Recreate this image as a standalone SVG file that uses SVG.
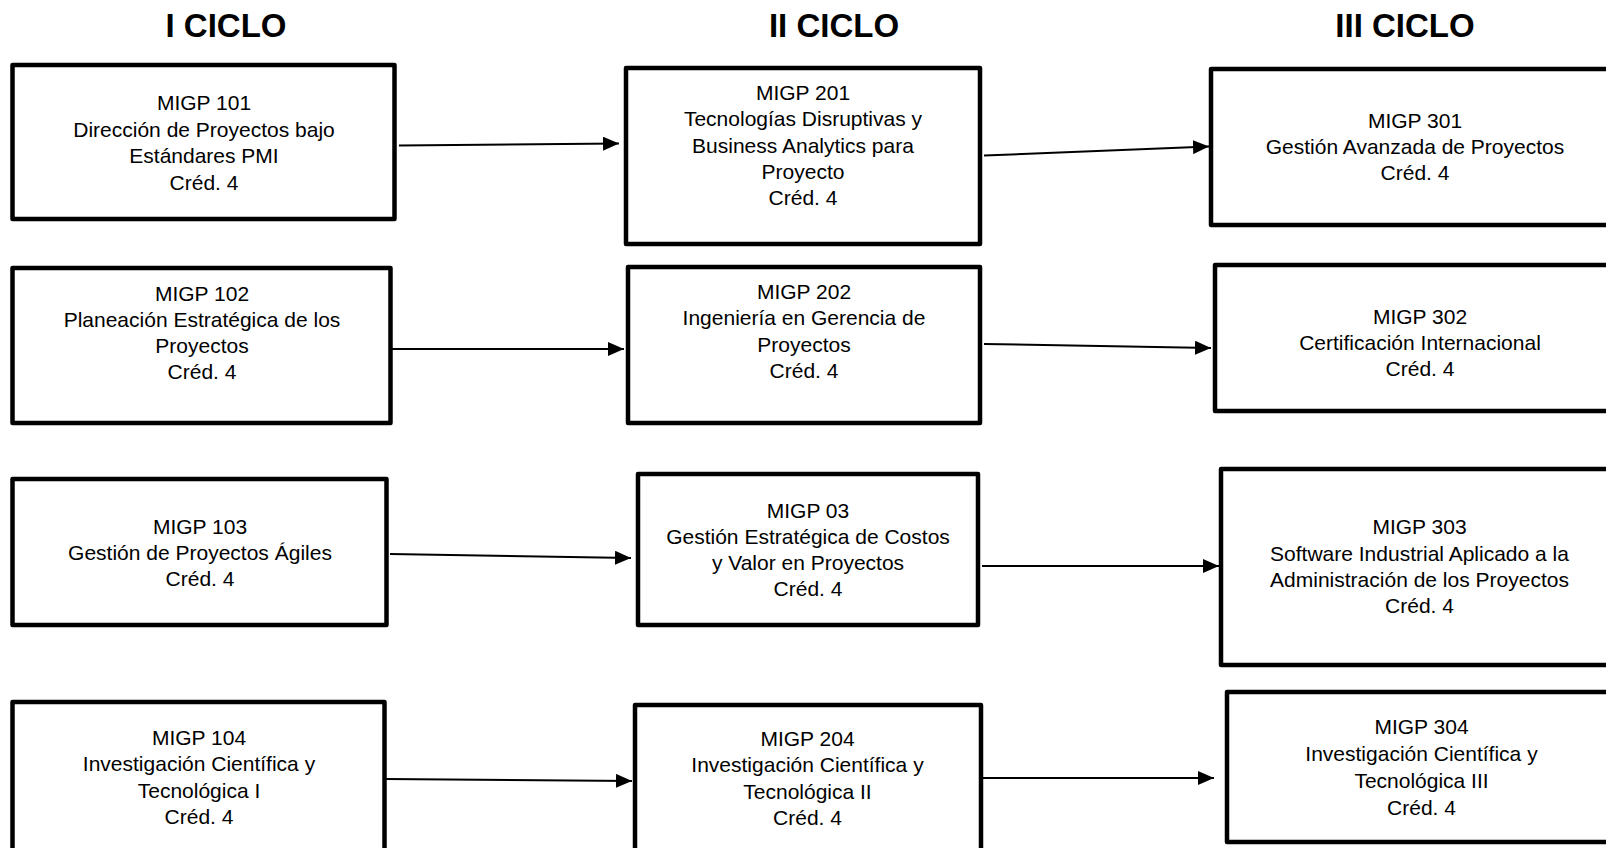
<svg xmlns="http://www.w3.org/2000/svg" width="1606" height="848" viewBox="0 0 1606 848">
<style>
.title{font-family:"Liberation Sans",Arial,sans-serif;font-weight:bold;font-size:33px;fill:#000;text-anchor:middle}
.box{fill:#fff;stroke:#000;stroke-width:4.5;stroke-linejoin:round}
.lbl{font-family:"Liberation Sans",Arial,sans-serif;font-size:21px;fill:#000;text-anchor:middle}
.conn{stroke:#000;stroke-width:2;fill:none;marker-end:url(#ah)}
</style>
<defs>
<marker id="ah" markerUnits="userSpaceOnUse" markerWidth="16" markerHeight="14" refX="16" refY="7" orient="auto">
<path d="M0,0 L16,7 L0,14 Z" fill="#000"/>
</marker>
</defs>
<rect width="1606" height="848" fill="#fff"/>
<g id="titles">
<text class="title" x="226" y="37">I CICLO</text>
<text class="title" x="834" y="37">II CICLO</text>
<text class="title" x="1405" y="37">III CICLO</text>
</g>
<g id="connectors">
<line class="conn" x1="399" y1="145.5" x2="619" y2="143.5"/>
<line class="conn" x1="392" y1="349" x2="624" y2="349"/>
<line class="conn" x1="390" y1="554" x2="631" y2="558"/>
<line class="conn" x1="386" y1="779" x2="632" y2="781"/>
<line class="conn" x1="984" y1="155.5" x2="1209" y2="146.5"/>
<line class="conn" x1="984" y1="344" x2="1211" y2="348"/>
<line class="conn" x1="982" y1="566" x2="1219" y2="566"/>
<line class="conn" x1="983" y1="778" x2="1214" y2="778"/>
</g>
<g id="migp101">
<rect class="box" x="12.5" y="65" width="382" height="154"/>
<text class="lbl" x="204" y="110">MIGP 101</text>
<text class="lbl" x="204" y="136.5">Dirección de Proyectos bajo</text>
<text class="lbl" x="204" y="163">Estándares PMI</text>
<text class="lbl" x="204" y="189.5">Créd. 4</text>
</g>
<g id="migp102">
<rect class="box" x="12.5" y="268" width="378" height="155"/>
<text class="lbl" x="202" y="300.5">MIGP 102</text>
<text class="lbl" x="202" y="326.8">Planeación Estratégica de los</text>
<text class="lbl" x="202" y="353">Proyectos</text>
<text class="lbl" x="202" y="379.3">Créd. 4</text>
</g>
<g id="migp103">
<rect class="box" x="12.5" y="479" width="374" height="146"/>
<text class="lbl" x="200" y="533.5">MIGP 103</text>
<text class="lbl" x="200" y="560">Gestión de Proyectos Ágiles</text>
<text class="lbl" x="200" y="586">Créd. 4</text>
</g>
<g id="migp104">
<rect class="box" x="12.5" y="702" width="372" height="170"/>
<text class="lbl" x="199" y="745">MIGP 104</text>
<text class="lbl" x="199" y="771.3">Investigación Científica y</text>
<text class="lbl" x="199" y="797.7">Tecnológica I</text>
<text class="lbl" x="199" y="824">Créd. 4</text>
</g>
<g id="migp201">
<rect class="box" x="626" y="68" width="354" height="176"/>
<text class="lbl" x="803" y="100">MIGP 201</text>
<text class="lbl" x="803" y="126.3">Tecnologías Disruptivas y</text>
<text class="lbl" x="803" y="152.5">Business Analytics para</text>
<text class="lbl" x="803" y="178.8">Proyecto</text>
<text class="lbl" x="803" y="205">Créd. 4</text>
</g>
<g id="migp202">
<rect class="box" x="628" y="267" width="352" height="156"/>
<text class="lbl" x="804" y="298.5">MIGP 202</text>
<text class="lbl" x="804" y="325">Ingeniería en Gerencia de</text>
<text class="lbl" x="804" y="351.5">Proyectos</text>
<text class="lbl" x="804" y="378">Créd. 4</text>
</g>
<g id="migp203">
<rect class="box" x="638" y="474" width="340" height="151"/>
<text class="lbl" x="808" y="517.5">MIGP 03</text>
<text class="lbl" x="808" y="543.5">Gestión Estratégica de Costos</text>
<text class="lbl" x="808" y="569.5">y Valor en Proyectos</text>
<text class="lbl" x="808" y="595.5">Créd. 4</text>
</g>
<g id="migp204">
<rect class="box" x="635" y="705" width="346" height="170"/>
<text class="lbl" x="807.5" y="746">MIGP 204</text>
<text class="lbl" x="807.5" y="772.3">Investigación Científica y</text>
<text class="lbl" x="807.5" y="798.7">Tecnológica II</text>
<text class="lbl" x="807.5" y="825">Créd. 4</text>
</g>
<g id="migp301">
<rect class="box" x="1211" y="69" width="420" height="156"/>
<text class="lbl" x="1415" y="127.5">MIGP 301</text>
<text class="lbl" x="1415" y="154">Gestión Avanzada de Proyectos</text>
<text class="lbl" x="1415" y="180">Créd. 4</text>
</g>
<g id="migp302">
<rect class="box" x="1215" y="265" width="420" height="146"/>
<text class="lbl" x="1420" y="323.5">MIGP 302</text>
<text class="lbl" x="1420" y="349.5">Certificación Internacional</text>
<text class="lbl" x="1420" y="375.7">Créd. 4</text>
</g>
<g id="migp303">
<rect class="box" x="1221" y="469" width="420" height="196"/>
<text class="lbl" x="1419.5" y="534.3">MIGP 303</text>
<text class="lbl" x="1419.5" y="560.6">Software Industrial Aplicado a la</text>
<text class="lbl" x="1419.5" y="587">Administración de los Proyectos</text>
<text class="lbl" x="1419.5" y="613.3">Créd. 4</text>
</g>
<g id="migp304">
<rect class="box" x="1227" y="692" width="420" height="150"/>
<text class="lbl" x="1421.5" y="734">MIGP 304</text>
<text class="lbl" x="1421.5" y="761">Investigación Científica y</text>
<text class="lbl" x="1421.5" y="788">Tecnológica III</text>
<text class="lbl" x="1421.5" y="815">Créd. 4</text>
</g>
</svg>
